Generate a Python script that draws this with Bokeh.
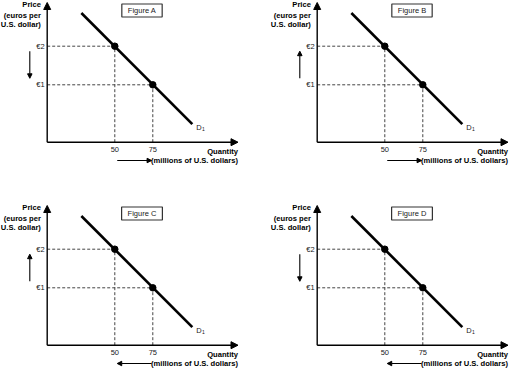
from bokeh.plotting import figure
from bokeh.layouts import gridplot
from bokeh.models import Arrow, NormalHead, Label, Range1d
from bokeh.core.properties import value
from bokeh.embed import file_html
from bokeh.resources import INLINE

# ---------------- data ----------------
panel_titles = ["Figure A", "Figure B", "Figure C", "Figure D"]
price_move = ["down", "up", "up", "down"]
quantity_move = ["right", "right", "left", "left"]

point_q = [50, 75]
point_p = [2, 1]
price_ticks = [1, 2]
price_labels = ["€1", "€2"]
qty_ticks = [50, 75]
qty_labels = ["50", "75"]
demand_q = [28, 101]
demand_p = [2.86, -0.02]
demand_name = "D"
demand_sub = "1"
price_title = ["Price", "(euros per", "U.S. dollar)"]
qty_title = ["Quantity", "(millions of U.S. dollars)"]

# ---------------- layout (pixel <-> data scale) ----------------
X_PX, Y_PX = 1.52, 38.6            # px per quantity unit, px per euro
REF_PX_X, REF_PX_Y = 114.3, 45.7   # local pixel position of the (50, €2) point


def qx(px):
    return point_q[0] + (px - REF_PX_X) / X_PX


def py(pxy):
    return point_p[0] - (pxy - REF_PX_Y) / Y_PX


Q_AX, P_AX = qx(46.7), py(141.7)   # where the axes cross
P_TOP, Q_TIP = py(2.0), qx(237.5)  # arrow tips

FONT = "Liberation Sans"
BOLD_SIZE = "7.6px"
REG_SIZE = "7.5px"
INK = "#1a1a1a"


def make_panel(i, width, height):
    p = figure(width=width, height=height,
               x_range=Range1d(qx(0), qx(width)), y_range=Range1d(py(height), py(0)),
               output_backend="svg", toolbar_location=None,
               x_axis_location=None, y_axis_location=None,
               min_border=0, min_border_left=0, min_border_right=0,
               min_border_top=0, min_border_bottom=0)
    p.outline_line_color = None
    p.grid.visible = False
    p.background_fill_color = "white"
    p.border_fill_color = "white"

    # axes as arrows
    for xs, ys, xe, ye in ((Q_AX, P_AX, Q_AX, P_TOP), (Q_AX, P_AX, Q_TIP, P_AX)):
        p.add_layout(Arrow(end=NormalHead(size=7, fill_color="black", line_color="black", line_width=1),
                           x_start=xs, y_start=ys, x_end=xe, y_end=ye,
                           line_width=1.4, line_color="black"))

    # tick labels
    p.text(x=qty_ticks, y=[P_AX] * len(qty_ticks), text=qty_labels, y_offset=6.8,
           text_font=value(FONT), text_font_size=REG_SIZE, text_color=INK,
           text_align="center", text_baseline="middle")
    p.text(x=[Q_AX] * len(price_ticks), y=price_ticks, text=price_labels, x_offset=-2.5,
           text_font=value(FONT), text_font_size=REG_SIZE, text_color=INK,
           text_align="right", text_baseline="middle")

    # dashed guide lines
    for q, pr in zip(point_q, point_p):
        p.line([Q_AX, q], [pr, pr], line_dash="3 2", line_color="#444444", line_width=1)
        p.line([q, q], [P_AX, pr], line_dash="3 2", line_color="#444444", line_width=1)

    # demand curve and points
    p.line(demand_q, demand_p, line_color="black", line_width=2.6)
    p.scatter(point_q, point_p, size=6.5, color="black")

    p.text(x=[demand_q[1]], y=[demand_p[1]], text=[demand_name], x_offset=4, y_offset=3,
           text_font=value(FONT), text_font_size=REG_SIZE, text_color=INK,
           text_align="left", text_baseline="middle")
    p.text(x=[demand_q[1]], y=[demand_p[1]], text=[demand_sub], x_offset=9.6, y_offset=5,
           text_font=value(FONT), text_font_size="5px", text_color=INK,
           text_align="left", text_baseline="middle")

    # axis titles
    p.text(x=[Q_AX] * 3, y=[P_TOP] * 3, text=price_title, x_offset=-6.3,
           y_offset=[2.3, 12.5, 22.0],
           text_font=value(FONT), text_font_size=BOLD_SIZE, text_font_style="bold",
           text_color="black", text_align="right", text_baseline="middle")
    p.text(x=[Q_TIP] * 2, y=[P_AX] * 2, text=qty_title, x_offset=0,
           y_offset=[9.3, 18.3],
           text_font=value(FONT), text_font_size=BOLD_SIZE, text_font_style="bold",
           text_color="black", text_align="right", text_baseline="middle")

    # panel title box
    p.add_layout(Label(x=qx(141.5), y=py(10), text=panel_titles[i],
                       text_font=FONT, text_font_size=REG_SIZE,
                       text_align="center", text_baseline="middle", text_color=INK,
                       border_line_color="#333333", border_line_width=1.2,
                       background_fill_color="white", padding=(6, 2)))

    # direction arrows
    vx = qx(29.3)
    v_hi, v_lo = point_p[0] - 5 / Y_PX, point_p[1] + 6.5 / Y_PX
    vy0, vy1 = (v_hi, v_lo) if price_move[i] == "down" else (v_lo, v_hi)
    p.add_layout(Arrow(end=NormalHead(size=4.5, fill_color="black", line_color="black", line_width=1),
                       x_start=vx, y_start=vy0, x_end=vx, y_end=vy1,
                       line_width=1.1, line_color="black"))
    hy = py(160)
    h_lo, h_hi = point_q[0] + 1.6, point_q[1] - 0.8
    hx0, hx1 = (h_lo, h_hi) if quantity_move[i] == "right" else (h_hi, h_lo)
    p.add_layout(Arrow(end=NormalHead(size=4.5, fill_color="black", line_color="black", line_width=1),
                       x_start=hx0, y_start=hy, x_end=hx1, y_end=hy,
                       line_width=1.1, line_color="black"))
    return p


pA = make_panel(0, 270, 203)
pB = make_panel(1, 239, 203)
pC = make_panel(2, 270, 165)
pD = make_panel(3, 239, 165)

grid = gridplot([[pA, pB], [pC, pD]], toolbar_location=None)

open("out.html", "w").write(file_html(grid, INLINE))
